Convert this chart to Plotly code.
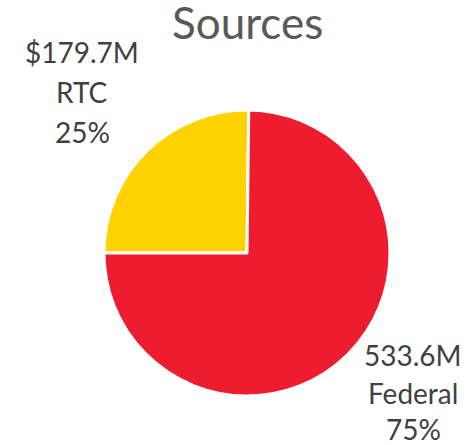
import plotly.graph_objects as go

labels = ["RTC", "Federal"]
values = [179.7, 533.6]
value_texts = ["$179.7M", "533.6M"]
colors = ["#FFD200", "#ED1C2E"]

W, H = 467, 445
total = sum(values)
pcts = [f"{round(v / total * 100)}%" for v in values]

fig = go.Figure(go.Pie(
    labels=labels, values=values, sort=False, direction="clockwise",
    rotation=-90, textinfo="none", hoverinfo="label+value+percent",
    marker=dict(colors=colors, line=dict(color="white", width=3)),
    domain=dict(x=[104 / W, 390 / W], y=[(H - 396) / H, (H - 110) / H]),
    showlegend=False,
))

font = "Lato, Open Sans, sans-serif"
ann = [dict(text="Sources", x=247 / W, y=1 - 22 / H, xref="paper", yref="paper",
            showarrow=False, xanchor="center", yanchor="middle",
            font=dict(family=font, size=44, color="#595959"))]

label_pos = [(82, [52, 92, 132]), (413, [355, 393, 429])]
for i in range(len(labels)):
    cx, ys = label_pos[i]
    for t, yy in zip([value_texts[i], labels[i], pcts[i]], ys):
        ann.append(dict(text=t, x=cx / W, y=1 - yy / H, xref="paper", yref="paper",
                        showarrow=False, xanchor="center", yanchor="middle",
                        font=dict(family=font, size=28, color="#404040")))

fig.update_layout(width=W, height=H, margin=dict(l=0, r=0, t=0, b=0),
                  paper_bgcolor="white", plot_bgcolor="white", annotations=ann)
fig.write_html("out.html", config={"displayModeBar": False},
               post_script="document.body.style.margin='0';document.body.style.overflow='hidden';")
